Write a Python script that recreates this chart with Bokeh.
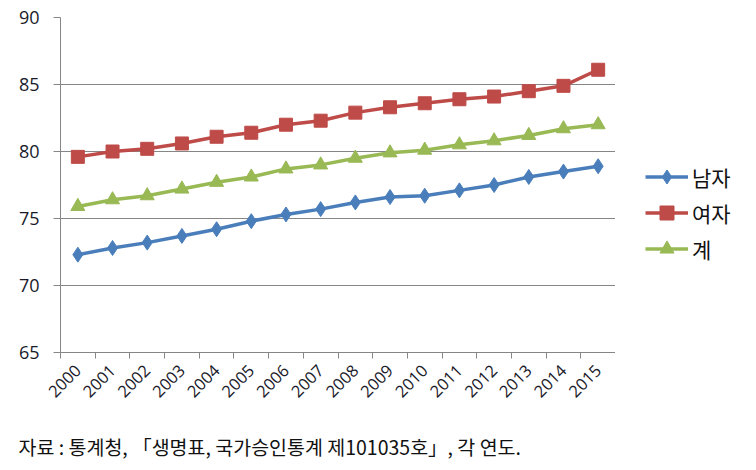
from bokeh.plotting import figure
from bokeh.models import Range1d, FixedTicker, Legend, LegendItem, Label
from bokeh.layouts import column, row
from bokeh.embed import file_html
from bokeh.resources import INLINE
import math

years = ["2000", "2001", "2002", "2003", "2004", "2005", "2006", "2007",
         "2008", "2009", "2010", "2011", "2012", "2013", "2014", "2015"]
male = [72.3, 72.8, 73.2, 73.7, 74.2, 74.8, 75.3, 75.7, 76.2, 76.6, 76.7, 77.1, 77.5, 78.1, 78.5, 78.9]
female = [79.6, 80.0, 80.2, 80.6, 81.1, 81.4, 82.0, 82.3, 82.9, 83.3, 83.6, 83.9, 84.1, 84.5, 84.9, 86.1]
total = [75.9, 76.4, 76.7, 77.2, 77.7, 78.1, 78.7, 79.0, 79.5, 79.9, 80.1, 80.5, 80.8, 81.2, 81.7, 82.0]
series_names = ["남자", "여자", "계"]
y_ticks = [65, 70, 75, 80, 85, 90]
source_note = "자료 : 통계청, 「생명표, 국가승인통계 제101035호」, 각 연도."

xs = list(range(len(years)))
GRID = "#868686"
TXT = "#1a1a2a"
colors = ["#4A7EBB", "#BE4B48", "#98B954"]
markers = ["diamond", "square", "triangle"]
sizes = [15, 13, 14]

# main chart
p = figure(width=615, height=420, output_backend="svg", toolbar_location=None,
           x_range=Range1d(-0.5, len(years) - 0.5), y_range=Range1d(65, 90),
           min_border_left=60, min_border_right=0, min_border_top=17, min_border_bottom=68)
p.outline_line_color = None
p.background_fill_color = "white"
p.border_fill_color = "white"

p.xgrid.grid_line_color = None
p.ygrid.grid_line_color = GRID
p.ygrid.grid_line_width = 1
p.ygrid.ticker = FixedTicker(ticks=y_ticks)

p.yaxis.ticker = FixedTicker(ticks=y_ticks)
p.yaxis.axis_line_color = GRID
p.yaxis.major_tick_line_color = GRID
p.yaxis.major_tick_out = 7
p.yaxis.major_tick_in = 0
p.yaxis.minor_tick_line_color = None
p.yaxis.major_label_text_font = "Open Sans"
p.yaxis.major_label_text_font_size = "18px"
p.yaxis.major_label_text_color = TXT
p.yaxis.major_label_standoff = 14

p.xaxis.ticker = FixedTicker(ticks=xs, minor_ticks=[i - 0.5 for i in range(len(years) + 1)])
p.xaxis.major_label_overrides = {i: y for i, y in enumerate(years)}
p.xaxis.major_tick_line_color = None
p.xaxis.minor_tick_line_color = GRID
p.xaxis.minor_tick_out = 6
p.xaxis.minor_tick_in = 0
p.xaxis.axis_line_color = GRID
p.xaxis.major_label_orientation = math.pi / 4
p.xaxis.major_label_text_font = "Open Sans"
p.xaxis.major_label_text_font_size = "16.5px"
p.xaxis.major_label_text_color = TXT
p.xaxis.major_label_standoff = 9

for vals, c, m, s in zip([male, female, total], colors, markers, sizes):
    p.line(xs, vals, line_color=c, line_width=3.5)
    p.scatter(xs, vals, marker=m, size=s, fill_color=c, line_color=c)

# legend panel (its frame is aligned with the main chart's frame by the row)
lg = figure(width=141, height=420, output_backend="svg", toolbar_location=None,
            x_range=Range1d(0, 1), y_range=Range1d(0, 1),
            min_border=0, x_axis_type=None, y_axis_type=None)
lg.outline_line_color = None
lg.grid.visible = False
lg.background_fill_alpha = 0
nan = float("nan")
items = []
for name, c, m, s in zip(series_names, colors, markers, sizes):
    l = lg.line(x=[nan], y=[nan], line_color=c, line_width=3.5)
    sc = lg.scatter(x=[nan], y=[nan], marker=m, size=s, fill_color=c, line_color=c)
    items.append(LegendItem(label=name, renderers=[l, sc]))
legend = Legend(items=items, location=(30, 86), padding=0, margin=0,
                glyph_width=43, glyph_height=35, label_height=20, spacing=1,
                label_standoff=4, label_text_font="Noto Sans CJK KR",
                label_text_font_size="21px", label_text_color="#111111",
                border_line_color=None, background_fill_alpha=0)
lg.add_layout(legend, "center")

# source note
nt = figure(width=756, height=50, output_backend="svg", toolbar_location=None,
            x_range=Range1d(0, 1), y_range=Range1d(0, 1),
            min_border=0, x_axis_type=None, y_axis_type=None)
nt.outline_line_color = None
nt.grid.visible = False
nt.add_layout(Label(x=18, y=24, x_units="screen", y_units="screen", text=source_note,
                    text_baseline="middle", text_font="Noto Sans CJK KR",
                    text_font_size="19.5px", text_color="#111111"))

layout = column(row(p, lg, spacing=0), nt, spacing=0)
open("out.html", "w").write(file_html(layout, INLINE))
